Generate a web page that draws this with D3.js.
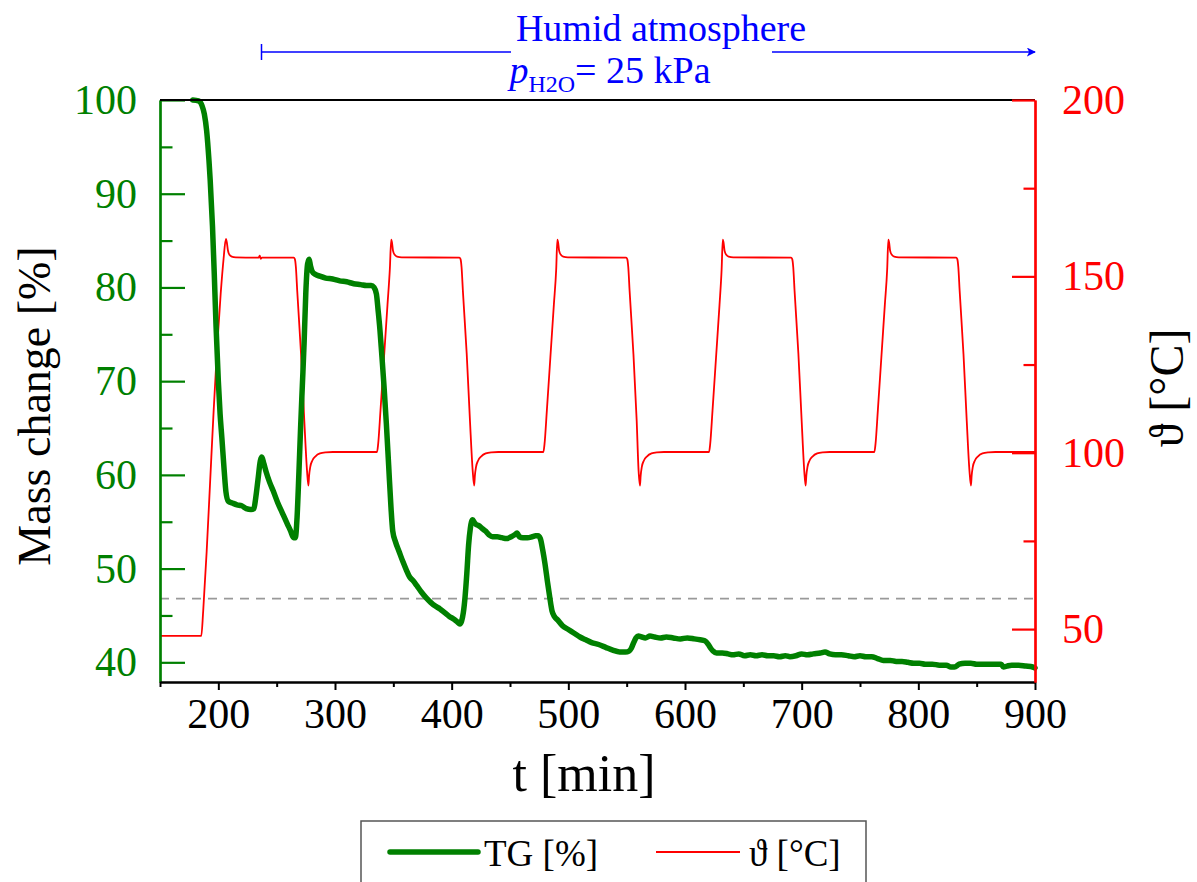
<!DOCTYPE html>
<html>
<head>
<meta charset="utf-8">
<script src="https://cdn.jsdelivr.net/npm/d3@7"></script>
<style>
  body { margin: 0; background: #fff; }
  svg { display: block; }
  text { font-family: "Liberation Serif", "Times New Roman", serif; }
</style>
</head>
<body>
<svg id="chart" width="1197" height="882"></svg>
<script>
// Thermogravimetric run: mass change (%) and sample temperature (°C) vs time (min)
const massPoints = [
  [178,100],[183,99.9],[186,99.4],[188,98.5],[190,96.7],[192,93.5],[193,91.5],[195,86.5],[196.5,81.5],[198,76],
  [200,70],[201.5,66.5],[203,64],[205,60.5],[206.5,58.2],[208.5,57.2],[212,57],[216,56.8],[220,56.7],[224,56.4],
  [228,56.3],[230.5,56.4],[232,57.5],[234,59.5],[236,61.5],[237.3,61.9],[239,61.2],[241,60.3],[244,59.2],[247,58.3],
  [251,57],[255,55.9],[259,54.8],[262,54],[264.5,53.3],[266,53.3],[267.5,55.5],[269,60],[270.5,65],[272,69.5],
  [273.5,74],[275,79.5],[276.5,82.5],[277.8,83],[279,82.3],[280.5,81.7],[283,81.4],[287,81.2],[292,81],[298,80.9],
  [304,80.7],[310,80.6],[316,80.4],[322,80.3],[327,80.2],[331,80.2],[333.5,80],[335.5,79.3],[337,77.5],[338.5,75.5],
  [340,73],[342,69.5],[344,65.5],[346,61],[348,56.5],[349.5,54],[352,52.8],[355,51.8],[358,50.8],[361,49.9],
  [364,49.1],[367,48.7],[370,48.2],[374,47.5],[378,46.9],[382,46.4],[386,46],[390,45.7],[394,45.3],[398,44.9],
  [402,44.6],[405,44.3],[407,44.1],[408.5,44.4],[410,45.3],[411.5,47],[413,49.5],[414.5,52.5],[416,54.3],[417,55],
  [418,55.2],[419.5,54.9],[421,54.7],[423,54.6],[426,54.3],[429,54],[432,53.6],[435,53.4],[439,53.4],[443,53.3],
  [447,53.2],[451,53.4],[454,53.6],[456,53.8],[458,53.4],[461,53.3],[465,53.3],[469,53.4],[472,53.5],[474,53.5],
  [476,53.2],[478,52],[480,50.5],[482,48.7],[484,47],[486,45.5],[488,44.9],[491,44.5],[495,43.9],[500,43.5],
  [505,43.1],[510,42.7],[515,42.4],[520,42.1],[526,41.9],[532,41.6],[538,41.3],[544,41.1],[549,41.1],[552,41.2],
  [554,41.5],[556,42.1],[558,42.6],[560,42.8],[563,42.7],[566,42.6],[570,42.8],[574,42.7],[579,42.6],[584,42.7],
  [590,42.6],[596,42.5],[602,42.6],[608,42.5],[613,42.4],[617,42.3],[620,41.9],[622,41.5],[624,41.2],[627,41],
  [632,41],[637,40.9],[641,40.8],[646,40.9],[651,40.7],[656,40.8],[661,40.7],[666,40.8],[671,40.7],[676,40.7],
  [681,40.6],[686,40.7],[690,40.6],[695,40.7],[700,40.9],[705,40.8],[710,40.9],[716,41],[720,41.1],[724,40.9],
  [729,40.8],[734,40.8],[740,40.7],[745,40.6],[750,40.7],[755,40.6],[760,40.6],[765,40.4],[770,40.2],[776,40.2],
  [781,40.1],[786,40.1],[791,40],[796,39.9],[801,39.9],[806,39.8],[812,39.8],[818,39.7],[824,39.7],[828,39.5],
  [831,39.5],[835,39.8],[840,39.9],[845,39.9],[850,39.8],[856,39.8],[862,39.8],[868,39.8],[871,39.8],[873,39.5],
  [876,39.6],[880,39.7],[886,39.7],[892,39.6],[898,39.5],[900,39.4]
];

const tempPoints = [
  [150,48.1],[185.4,48.1],[187,55],[190,72],[193,92],[196,112],[199,130],[202,145],[204.5,155],[206.5,160.6],
  [207.3,159.6],[208.2,157.4],[209.5,156.1],[211.5,155.6],[215,155.4],[234.5,155.3],[235.5,155.9],[236.3,155],[237.3,155.3],
  [264.6,155.3],[265.6,154.9],[266.5,152.5],[267.6,146],[270.9,128],[273.7,109],[276,95],[277.2,90.7],[277.8,93.5],
  [278.8,96],[280.6,97.8],[283.3,99],[287.1,99.8],[292,100.1],[298,100.2],
  [336,100.2],[337,102.5],[339,112],[342,127],[345,142],[347,152],[348.2,160.4],[348.9,159.5],[349.7,157.3],
  [351.2,156.1],[353.2,155.6],[357.2,155.4],
  [406.6,155.3],[407.6,154.9],[408.5,152.5],[409.6,146],[412.9,128],[415.7,109],[418,95],[419.3,90.7],[419.9,93.5],
  [420.9,96],[422.7,97.8],[425.4,99],[429.2,99.8],[434,100.1],[440,100.2],
  [478.6,100.2],[479.6,102.5],[481.6,112],[484.6,127],[487.6,142],[489.6,152],[490.6,160.4],[491.3,159.5],[492.1,157.3],
  [493.6,156.1],[495.6,155.6],[499.6,155.4],
  [549.5,155.3],[550.5,154.9],[551.4,152.5],[552.5,146],[555.8,128],[558.6,109],[560.2,95],[561.4,90.7],[562,93.5],
  [563,96],[564.8,97.8],[567.5,99],[571.3,99.8],[576,100.1],[582,100.2],
  [620.6,100.2],[621.6,102.5],[623.6,112],[626.6,127],[629.6,142],[631.4,152],[632.4,160.4],[633.1,159.5],[633.9,157.3],
  [635.4,156.1],[637.4,155.6],[641.4,155.4],
  [690.9,155.3],[691.9,154.9],[692.8,152.5],[693.9,146],[697.2,128],[700,109],[702.2,95],[703.4,90.7],[704,93.5],
  [705,96],[706.8,97.8],[709.5,99],[713.3,99.8],[718,100.1],[724,100.2],
  [762.3,100.2],[763.3,102.5],[765.3,112],[768.3,127],[771.3,142],[773.3,152],[774.3,160.4],[775,159.5],[775.8,157.3],
  [777.3,156.1],[779.3,155.6],[783.3,155.4],
  [832.4,155.3],[833.4,154.9],[834.3,152.5],[835.4,146],[838.7,128],[841.5,109],[843.8,95],[845.1,90.7],[845.7,93.5],
  [846.7,96],[848.5,97.8],[851.2,99],[855,99.8],[860,100.1],[866,100.2],[900,100.2]
];

const timeTicks = [200, 300, 400, 500, 600, 700, 800, 900];
const timeMinorTicks = [150, 250, 350, 450, 550, 650, 750, 850];
const massTicks = [40, 50, 60, 70, 80, 90, 100];
const massMinorTicks = [45, 55, 65, 75, 85, 95];
const tempTicks = [50, 100, 150, 200];
const tempMinorTicks = [75, 125, 175];
const referenceMass = 46.8;
const humidStart = 237;   // start of the humid atmosphere period (min)

const GREEN = "#008000", RED = "#ff0000", BLUE = "#0000ff";
const svg = d3.select("#chart");

const x = d3.scaleLinear().domain([150, 900]).range([160, 1035]);
const yMass = d3.scaleLinear().domain([37.9, 100]).range([682, 100]);
const yTemp = d3.scaleLinear().domain([35, 200]).range([682, 100]);

// reference mass level
svg.append("line")
  .attr("x1", x(150)).attr("x2", x(900))
  .attr("y1", yMass(referenceMass)).attr("y2", yMass(referenceMass))
  .attr("stroke", "#999").attr("stroke-width", 1.6).attr("stroke-dasharray", "9,7");

// temperature trace
svg.append("path")
  .datum(tempPoints)
  .attr("fill", "none").attr("stroke", RED).attr("stroke-width", 1.8)
  .attr("stroke-linejoin", "round")
  .attr("d", d3.line().x(d => x(d[0])).y(d => yTemp(d[1])).curve(d3.curveMonotoneX));

// mass trace
svg.append("path")
  .datum(massPoints)
  .attr("fill", "none").attr("stroke", GREEN).attr("stroke-width", 5.5)
  .attr("stroke-linejoin", "round").attr("stroke-linecap", "round")
  .attr("d", d3.line().x(d => x(d[0])).y(d => yMass(d[1])).curve(d3.curveMonotoneX));

const tickFont = "42px";

// left axis (mass), ticks pointing inward
const leftG = svg.append("g").attr("transform", `translate(${x(150)},0)`);
leftG.call(d3.axisLeft(yMass).tickValues(massTicks).tickSizeInner(-25).tickSizeOuter(0).tickPadding(23));
leftG.append("g").call(d3.axisLeft(yMass).tickValues(massMinorTicks).tickSizeInner(-12.5).tickSizeOuter(0).tickFormat(""));
leftG.selectAll("path.domain").attr("stroke", GREEN).attr("stroke-width", 2.2);
leftG.selectAll("line").attr("stroke", GREEN).attr("stroke-width", 2.2);
leftG.selectAll("text").attr("fill", GREEN).style("font-size", tickFont);

// bottom axis (time), ticks pointing outward
const bottomG = svg.append("g").attr("transform", `translate(0,${yMass.range()[0]})`);
bottomG.call(d3.axisBottom(x).tickValues(timeTicks).tickSizeInner(8).tickSizeOuter(0).tickPadding(8));
bottomG.append("g").call(d3.axisBottom(x).tickValues(timeMinorTicks).tickSizeInner(5).tickSizeOuter(0).tickFormat(""));
bottomG.selectAll("path.domain").attr("stroke", "#000").attr("stroke-width", 2.2);
bottomG.selectAll("line").attr("stroke", "#000").attr("stroke-width", 2);
bottomG.selectAll("text").attr("fill", "#000").style("font-size", tickFont);

// top frame line
svg.append("line")
  .attr("x1", x(150)).attr("x2", x(900))
  .attr("y1", yMass(100)).attr("y2", yMass(100))
  .attr("stroke", "#000").attr("stroke-width", 2.2);

// right axis (temperature), ticks pointing inward
const rightG = svg.append("g").attr("transform", `translate(${x(900)},0)`);
rightG.call(d3.axisRight(yTemp).tickValues(tempTicks).tickSizeInner(-23).tickSizeOuter(0).tickPadding(27));
rightG.append("g").call(d3.axisRight(yTemp).tickValues(tempMinorTicks).tickSizeInner(-11.5).tickSizeOuter(0).tickFormat(""));
rightG.selectAll("path.domain").attr("stroke", RED).attr("stroke-width", 2.2);
rightG.selectAll("line").attr("stroke", RED).attr("stroke-width", 2.2);
rightG.selectAll("text").attr("fill", RED).style("font-size", tickFont);

svg.selectAll(".tick text").style("font-family", "'Liberation Serif', 'Times New Roman', serif");

// axis titles
svg.append("text")
  .attr("transform", "translate(50,406) rotate(-90)")
  .attr("text-anchor", "middle").style("font-size", "46px").attr("fill", "#000")
  .text("Mass change [%]");
svg.append("text")
  .attr("transform", "translate(1183,388) rotate(-90)")
  .attr("text-anchor", "middle").style("font-size", "48px").attr("fill", "#000")
  .text("ϑ [°C]");
svg.append("text")
  .attr("x", 584).attr("y", 791)
  .attr("text-anchor", "middle").style("font-size", "52px").attr("fill", "#000")
  .text("t [min]");

// humid atmosphere annotation
const arrowY = 52;
svg.append("defs").append("marker")
  .attr("id", "arrowHead").attr("viewBox", "0 0 10 10")
  .attr("refX", 9).attr("refY", 5).attr("markerWidth", 9).attr("markerHeight", 9)
  .attr("markerUnits", "userSpaceOnUse").attr("orient", "auto")
  .append("path").attr("d", "M0,0 L10,5 L0,10 L2.5,5 Z").attr("fill", BLUE);
svg.append("line")
  .attr("x1", x(humidStart)).attr("x2", x(humidStart))
  .attr("y1", arrowY - 8).attr("y2", arrowY + 8)
  .attr("stroke", BLUE).attr("stroke-width", 1.5);
svg.append("line")
  .attr("x1", x(humidStart)).attr("x2", 511)
  .attr("y1", arrowY).attr("y2", arrowY)
  .attr("stroke", BLUE).attr("stroke-width", 1.5);
svg.append("line")
  .attr("x1", 772).attr("x2", x(900))
  .attr("y1", arrowY).attr("y2", arrowY)
  .attr("stroke", BLUE).attr("stroke-width", 1.5)
  .attr("marker-end", "url(#arrowHead)");
svg.append("text")
  .attr("x", 661).attr("y", 41).attr("text-anchor", "middle")
  .style("font-size", "38px").attr("fill", BLUE)
  .text("Humid atmosphere");
const pText = svg.append("text")
  .attr("x", 610).attr("y", 83).attr("text-anchor", "middle")
  .style("font-size", "38px").attr("fill", BLUE);
pText.append("tspan").style("font-style", "italic").text("p");
pText.append("tspan").attr("dy", 9).style("font-size", "24px").text("H2O");
pText.append("tspan").attr("dy", -9).text("= 25 kPa");

// legend
const legend = svg.append("g");
legend.append("rect")
  .attr("x", 361).attr("y", 821).attr("width", 505).attr("height", 90)
  .attr("fill", "#fff").attr("stroke", "#555").attr("stroke-width", 1.5);
legend.append("line")
  .attr("x1", 390).attr("x2", 478).attr("y1", 852).attr("y2", 852)
  .attr("stroke", GREEN).attr("stroke-width", 5.5).attr("stroke-linecap", "round");
legend.append("text")
  .attr("x", 484).attr("y", 866).style("font-size", "37px").attr("fill", "#000")
  .text("TG [%]");
legend.append("line")
  .attr("x1", 656).attr("x2", 740).attr("y1", 852).attr("y2", 852)
  .attr("stroke", RED).attr("stroke-width", 1.8);
legend.append("text")
  .attr("x", 749).attr("y", 866).style("font-size", "37px").attr("fill", "#000")
  .text("ϑ [°C]");
</script>
</body>
</html>
